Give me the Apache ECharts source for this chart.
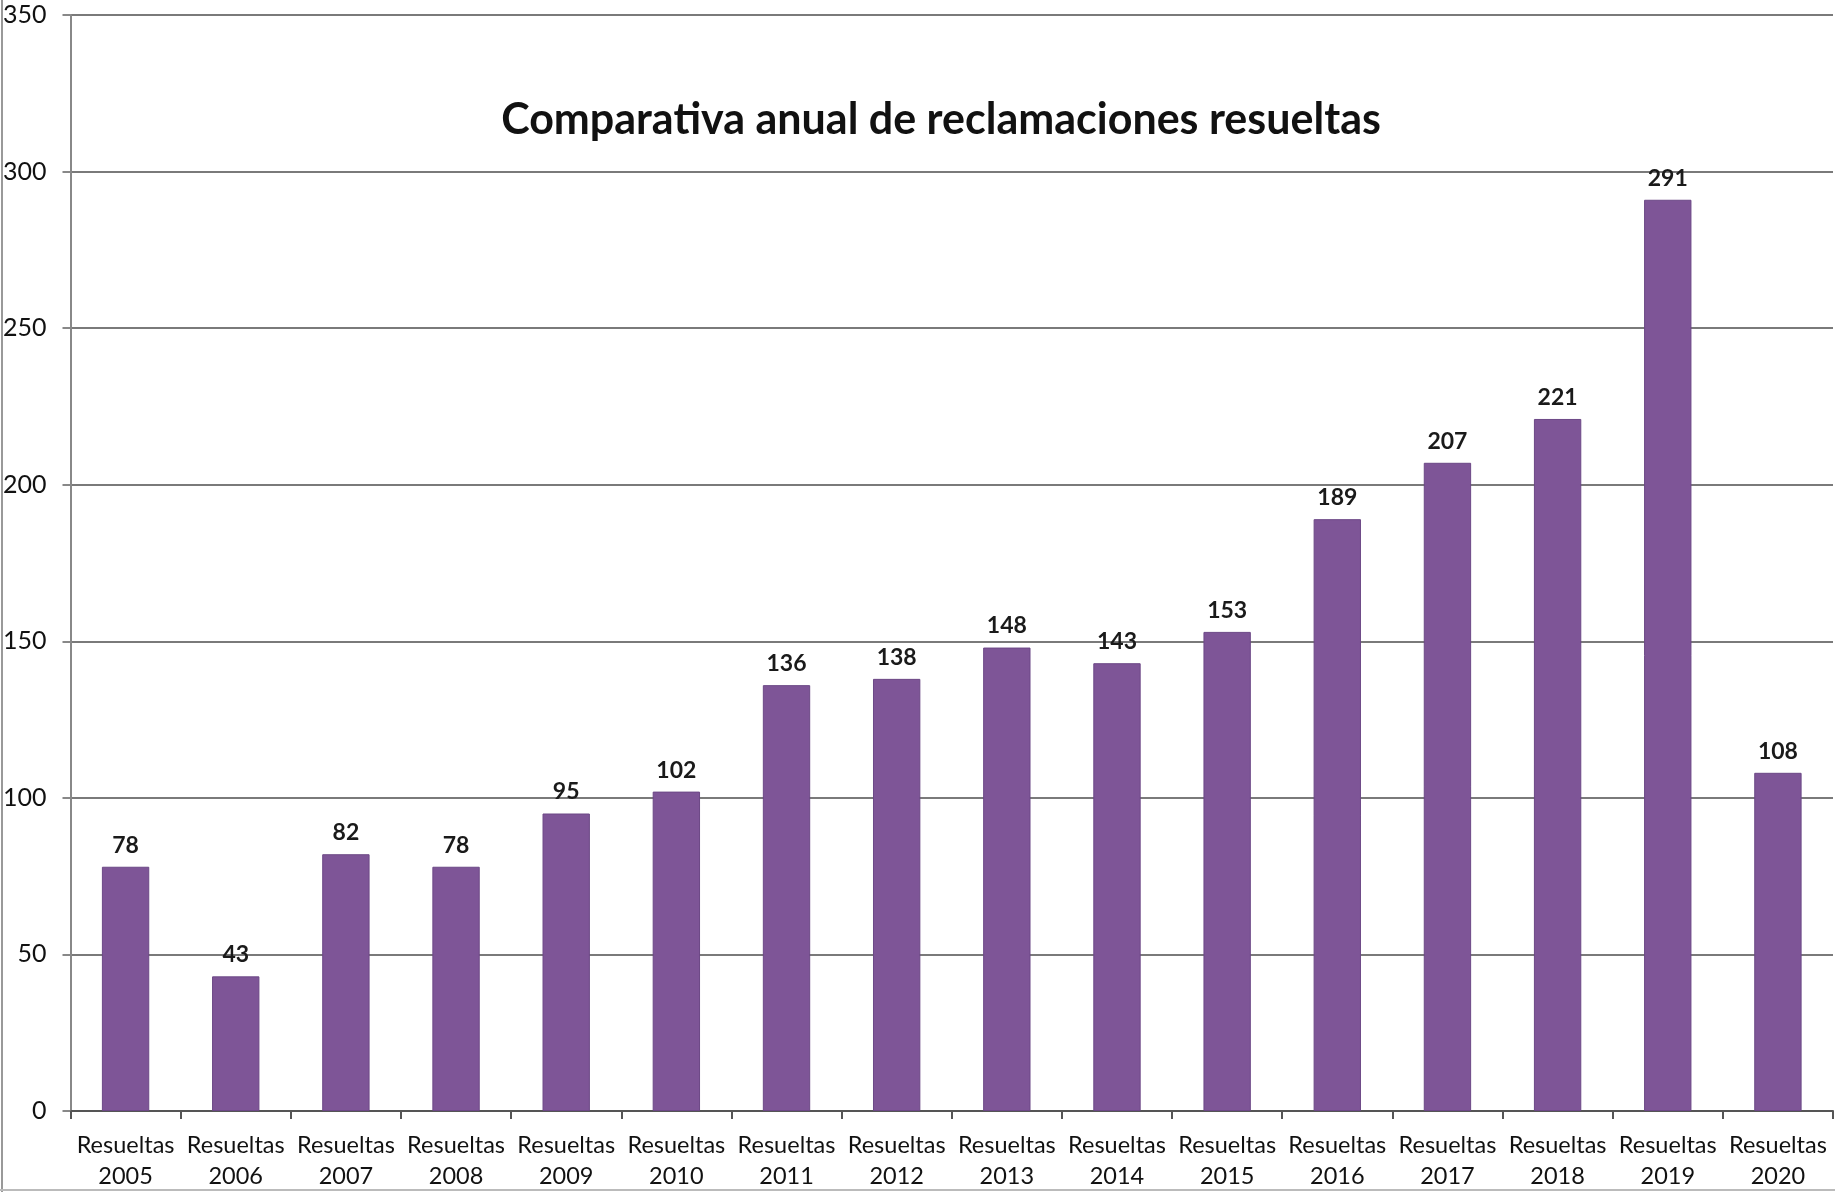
<!DOCTYPE html>
<html>
<head>
<meta charset="utf-8">
<script src="https://cdn.jsdelivr.net/npm/echarts@6/dist/echarts.min.js"></script>
<style>
  html, body { margin: 0; padding: 0; background: #fff; }
  #chart { width: 1835px; height: 1192px; }
</style>
</head>
<body>
<div id="chart"></div>
<script>
// years and values
const categories = ['Resueltas\n2005', 'Resueltas\n2006', 'Resueltas\n2007', 'Resueltas\n2008',
  'Resueltas\n2009', 'Resueltas\n2010', 'Resueltas\n2011', 'Resueltas\n2012',
  'Resueltas\n2013', 'Resueltas\n2014', 'Resueltas\n2015', 'Resueltas\n2016',
  'Resueltas\n2017', 'Resueltas\n2018', 'Resueltas\n2019', 'Resueltas\n2020'];
const resueltas = [78, 43, 82, 78, 95, 102, 136, 138, 148, 143, 153, 189, 207, 221, 291, 108];
const yTicks = [0, 50, 100, 150, 200, 250, 300, 350];

const FONT = 'Lato, "Open Sans", sans-serif';
const chart = echarts.init(document.getElementById('chart'));

chart.setOption({
  backgroundColor: '#fff',
  animation: false,
  title: {
    text: 'Comparativa anual de reclamaciones resueltas',
    left: 936,
    top: 94,
    textAlign: 'center',
    textStyle: { fontFamily: FONT, fontWeight: 'bold', fontSize: 43, color: '#111' }
  },
  grid: { left: 68, right: 2, top: 15, bottom: 79 },
  xAxis: {
    type: 'category',
    data: categories,
    axisLine: { show: true, lineStyle: { color: '#555', width: 2 } },
    axisTick: { show: true, length: 8, lineStyle: { color: '#555', width: 2 } },
    axisLabel: { color: '#111', fontFamily: FONT, fontSize: 23.5, lineHeight: 31, margin: 19, interval: 0 }
  },
  yAxis: {
    type: 'value',
    min: yTicks[0],
    max: yTicks[yTicks.length - 1],
    interval: 50,
    axisLine: { show: true, lineStyle: { color: '#888', width: 2 } },
    axisTick: { show: true, length: 8, lineStyle: { color: '#888', width: 2 } },
    axisLabel: { color: '#111', fontFamily: FONT, fontSize: 25, margin: 24 },
    splitLine: { lineStyle: { color: '#7a7a7a', width: 2 } }
  },
  series: [{
    name: 'Resueltas',
    type: 'bar',
    data: resueltas,
    barWidth: '43%',
    itemStyle: { color: '#7e5597', borderColor: '#6c4886', borderWidth: 1 },
    label: {
      show: true,
      position: 'top',
      distance: 10,
      color: '#1a1a1a',
      fontFamily: FONT,
      fontWeight: 'bold',
      fontSize: 23
    }
  }],
  graphic: [
    { type: 'line', shape: { x1: 2, y1: 0, x2: 2, y2: 1192 }, style: { stroke: '#999', lineWidth: 2 } },
    { type: 'line', shape: { x1: 0, y1: 1190, x2: 1835, y2: 1190 }, style: { stroke: '#bbb', lineWidth: 2 } }
  ]
});
</script>
</body>
</html>
